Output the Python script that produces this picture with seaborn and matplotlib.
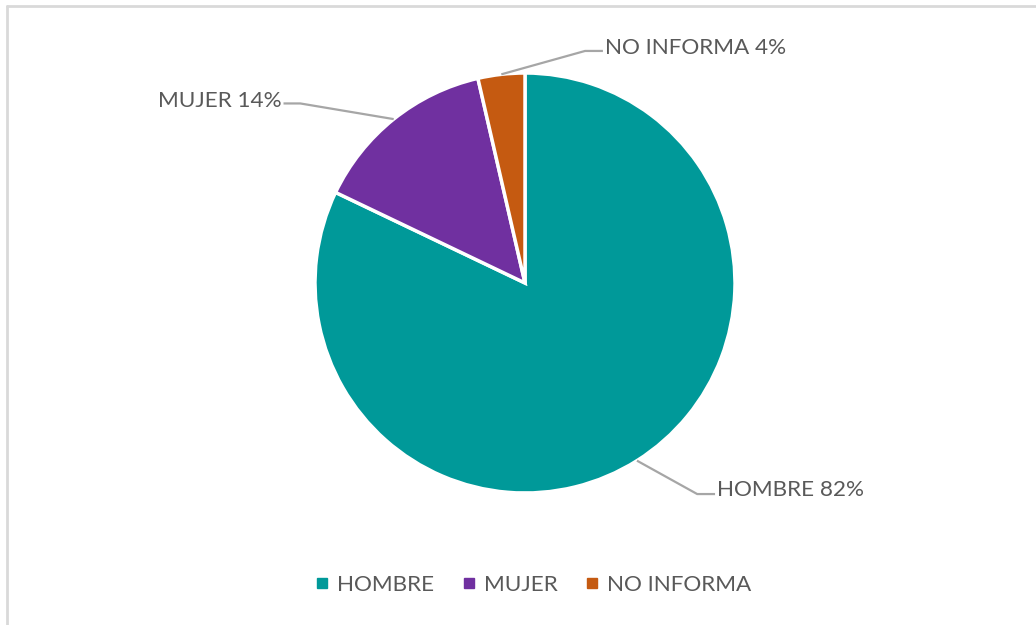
import numpy as np
import matplotlib
matplotlib.use("Agg")
import matplotlib.pyplot as plt
from matplotlib.lines import Line2D
import seaborn as sns

# datos
categorias = ["HOMBRE", "MUJER", "NO INFORMA"]
porcentajes = [82.1, 14.3, 3.6]
colores = ["#009999", "#7030A0", "#C55A11"]

sns.set_style("white")
plt.rcParams['font.family'] = ['Lato', 'DejaVu Sans']
texto_gris = "#595959"
linea_gris = "#A6A6A6"

W, H = 1036, 625
fig = plt.figure(figsize=(W / 100, H / 100), dpi=100)

# centro del pastel (525, 283) px, radio 210 px
cx, cy, r = 525, 283, 210
ax = fig.add_axes([(cx - r) / W, (H - cy - r) / H, 2 * r / W, 2 * r / H])
pal = sns.color_palette(colores)
wedges, _ = ax.pie(porcentajes, colors=pal, startangle=90, counterclock=False,
                   radius=1, wedgeprops=dict(edgecolor="white", linewidth=2.5))
ax.set_xlim(-1, 1)
ax.set_ylim(-1, 1)
ax.set_aspect("equal")
ax.axis("off")

# posiciones de etiquetas: (codo, fin de linea, texto, alineacion)
etiquetas_pos = [
    ((0.82, -1.005), (0.905, -1.005), (0.915, -0.985), "left"),
    ((-1.07, 0.855), (-1.15, 0.855), (-1.158, 0.868), "right"),
    ((0.286, 1.105), (0.371, 1.105), (0.381, 1.118), "left"),
]

for w, nombre, pct, (codo, fin, txt, ha) in zip(wedges, categorias, porcentajes, etiquetas_pos):
    ang = np.deg2rad((w.theta1 + w.theta2) / 2)
    x0, y0 = np.cos(ang), np.sin(ang)
    ax.plot([x0, codo[0], fin[0]], [y0, codo[1], fin[1]], color=linea_gris,
            lw=1.6, clip_on=False, solid_capstyle="butt")
    ax.text(txt[0], txt[1], f"{nombre} {round(pct):d}%", ha=ha, va="center",
            fontsize=16.2, color=texto_gris, clip_on=False)

handles = [Line2D([0], [0], marker="s", linestyle="none", markersize=7,
                  markerfacecolor=c, markeredgecolor=c) for c in pal]
fig.legend(handles, categorias, loc="center", bbox_to_anchor=(531 / W, 1 - 585 / H),
           ncol=3, frameon=False, fontsize=16.2, labelcolor=texto_gris,
           handletextpad=0.15, columnspacing=1.05, handlelength=1.0)

# marco gris (solo arriba e izquierda visibles)
fig.add_artist(Line2D([7 / W, 1], [1 - 6 / H, 1 - 6 / H], transform=fig.transFigure,
                      color="#D9D9D9", lw=2))
fig.add_artist(Line2D([7 / W, 7 / W], [0, 1 - 6 / H], transform=fig.transFigure,
                      color="#D9D9D9", lw=2))

fig.savefig("out.png", dpi=100, facecolor="white")
